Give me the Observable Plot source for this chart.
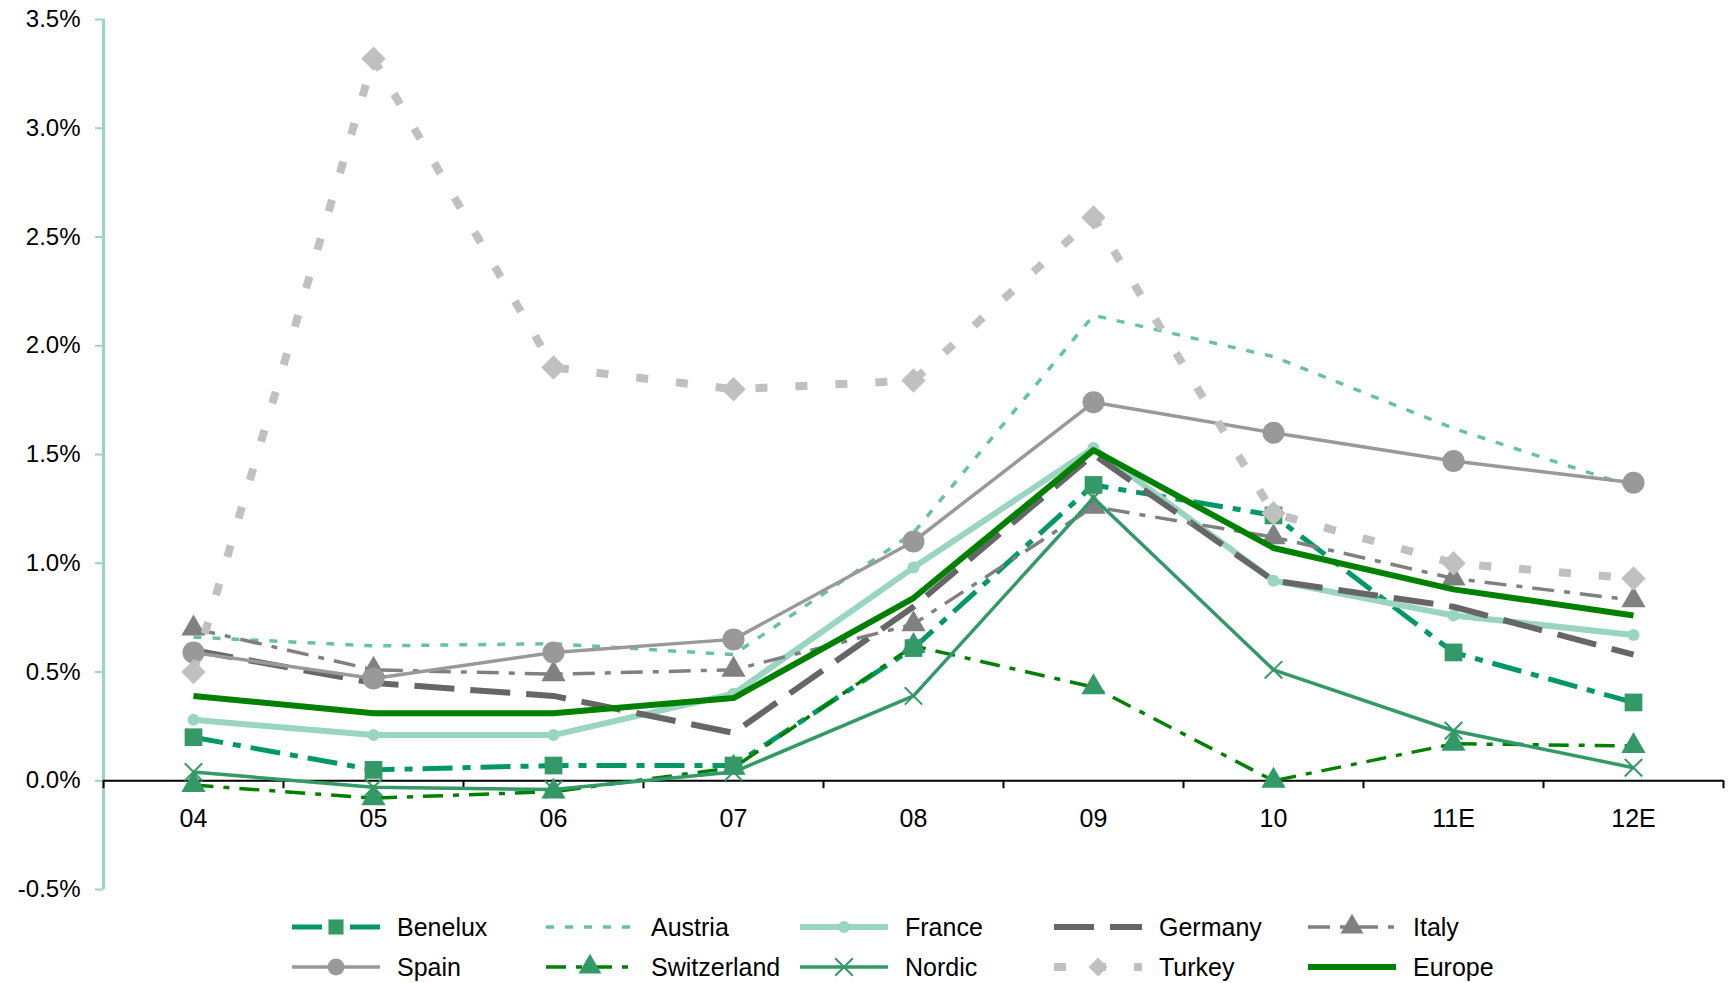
<!DOCTYPE html>
<html>
<head>
<meta charset="utf-8">
<script src="https://cdn.jsdelivr.net/npm/d3@7"></script>
<script src="https://cdn.jsdelivr.net/npm/@observablehq/plot@0.6"></script>
<style>
  html, body { margin: 0; padding: 0; background: #fff; }
  #chart { position: relative; width: 1731px; height: 983px; font-family: "Liberation Sans", Arial, sans-serif; }
  #legend { position: absolute; left: 0; top: 907px; width: 1731px; }
  .row { position: relative; height: 40px; }
  .item { position: absolute; top: 0; height: 40px; display: flex; align-items: center; }
  .item svg { display: block; }
  .item span { margin-left: 17px; font-size: 25px; color: #000; line-height: 40px; }
</style>
</head>
<body>
<div id="chart"></div>
<script>
// Periods on the x axis (E = estimate)
const years = ["04", "05", "06", "07", "08", "09", "10", "11E", "12E"];

// Values in percent, one array per region
const benelux     = [0.20, 0.05, 0.07, 0.07, 0.61, 1.36, 1.22, 0.59, 0.36];
const austria     = [0.66, 0.62, 0.63, 0.58, 1.14, 2.14, 1.95, 1.62, 1.35];
const france      = [0.28, 0.21, 0.21, 0.40, 0.98, 1.53, 0.92, 0.76, 0.67];
const germany     = [0.60, 0.45, 0.39, 0.22, 0.80, 1.50, 0.92, 0.80, 0.58];
const italy       = [0.70, 0.51, 0.49, 0.51, 0.72, 1.26, 1.12, 0.93, 0.83];
const spain       = [0.59, 0.47, 0.59, 0.65, 1.10, 1.74, 1.60, 1.47, 1.37];
const switzerland = [-0.02, -0.08, -0.05, 0.06, 0.62, 0.43, 0.00, 0.17, 0.16];
const nordic      = [0.04, -0.03, -0.04, 0.04, 0.39, 1.30, 0.51, 0.23, 0.06];
const turkey      = [0.50, 3.32, 1.90, 1.80, 1.84, 2.59, 1.23, 1.00, 0.93];
const europe      = [0.39, 0.31, 0.31, 0.38, 0.84, 1.52, 1.07, 0.88, 0.76];

// Y axis tick values (percent)
const yTicks = [-0.5, 0, 0.5, 1, 1.5, 2, 2.5, 3, 3.5];

// Line and marker styling per series, in drawing / legend order
const series = [
  {name: "Benelux", values: benelux, stroke: "#009966", width: 5, dash: "30,10,8,10", symbol: "square", fill: "#339966", r: 10},
  {name: "Austria", values: austria, stroke: "#66c2a5", width: 3.5, dash: "8,11"},
  {name: "France", values: france, stroke: "#99d5c0", width: 6, symbol: "circle", fill: "#99d5c0", r: 6},
  {name: "Germany", values: germany, stroke: "#666666", width: 6, dash: "40,16"},
  {name: "Italy", values: italy, stroke: "#808080", width: 3.5, dash: "22,10,6,10", symbol: "triangle", fill: "#808080", r: 9},
  {name: "Spain", values: spain, stroke: "#999999", width: 3.5, symbol: "circle", fill: "#999999", r: 11},
  {name: "Switzerland", values: switzerland, stroke: "#008000", width: 3.5, dash: "20,10,6,10", symbol: "triangle", fill: "#339966", r: 9},
  {name: "Nordic", values: nordic, stroke: "#339966", width: 3.5, symbol: "times", markerStroke: "#339966", r: 8},
  {name: "Turkey", values: turkey, stroke: "#c0c0c0", width: 8, dash: "12,28", symbol: "diamond2", fill: "#c0c0c0", r: 11},
  {name: "Europe", values: europe, stroke: "#008000", width: 6}
];

const idx = (d, i) => i;
const boundaries = d3.range(years.length + 1).map((k) => k - 0.5);

const seriesMarks = series.flatMap((s) => {
  const marks = [
    Plot.line(s.values, {
      x: idx, y: (d) => d,
      stroke: s.stroke, strokeWidth: s.width,
      strokeDasharray: s.dash, strokeLinecap: "butt", strokeLinejoin: "round"
    })
  ];
  if (s.symbol) {
    marks.push(Plot.dot(s.values, {
      x: idx, y: (d) => d,
      symbol: s.symbol, r: s.r,
      fill: s.markerStroke ? "none" : s.fill,
      stroke: s.markerStroke || "none",
      strokeWidth: s.markerStroke ? 2 : 0
    }));
  }
  return marks;
});

const chart = Plot.plot({
  width: 1731,
  height: 905,
  marginLeft: 103,
  marginRight: 8,
  marginTop: 19,
  marginBottom: 16,
  style: {fontFamily: "'Liberation Sans', Arial, sans-serif", background: "#fff", color: "#000"},
  x: {type: "linear", domain: [-0.5, years.length - 0.5], axis: null},
  y: {domain: [-0.5, 3.5], axis: null},
  marks: [
    // vertical value axis
    Plot.ruleX([-0.5], {y1: -0.5, y2: 3.5, stroke: "#99d5c0", strokeWidth: 3}),
    Plot.ruleY(yTicks, {x1: -0.5, x2: -0.5, insetLeft: -8, stroke: "#99d5c0", strokeWidth: 2}),
    Plot.text(yTicks, {
      x: -0.5, y: (d) => d, text: (d) => d.toFixed(1) + "%",
      textAnchor: "end", dx: -23, fontSize: 24, fill: "#000"
    }),
    // category axis along zero
    Plot.ruleY([0], {x1: -0.5, x2: years.length - 0.5, stroke: "#000", strokeWidth: 2}),
    Plot.ruleX(boundaries, {y1: 0, y2: 0, insetBottom: -8, stroke: "#000", strokeWidth: 2}),
    Plot.text(years, {x: idx, y: 0, text: (d) => d, dy: 38, fontSize: 25, fill: "#000"}),
    ...seriesMarks
  ]
});

const root = document.getElementById("chart");
root.appendChild(chart);

// Legend: two rows of five entries below the plot
const legend = document.createElement("div");
legend.id = "legend";
root.appendChild(legend);
const colPitch = 254, colStart = 292, swW = 88, swH = 30;
const symbolTypes = {square: d3.symbolSquare, circle: d3.symbolCircle, triangle: d3.symbolTriangle, times: d3.symbolTimes, diamond2: d3.symbolDiamond2};
for (let row = 0; row < 2; ++row) {
  const rowDiv = document.createElement("div");
  rowDiv.className = "row";
  legend.appendChild(rowDiv);
  series.slice(row * 5, row * 5 + 5).forEach((s, c) => {
    const item = document.createElement("div");
    item.className = "item";
    item.style.left = (colStart + c * colPitch) + "px";
    const svg = d3.create("svg").attr("width", swW).attr("height", swH);
    svg.append("line")
      .attr("x1", 0).attr("x2", swW).attr("y1", swH / 2).attr("y2", swH / 2)
      .attr("stroke", s.stroke).attr("stroke-width", s.width)
      .attr("stroke-dasharray", s.dash || null);
    if (s.symbol) {
      const rr = Math.min(s.r, 8.5);
      svg.append("path")
        .attr("transform", `translate(${swW / 2},${swH / 2})`)
        .attr("d", d3.symbol(symbolTypes[s.symbol], Math.PI * rr * rr)())
        .attr("fill", s.markerStroke ? "none" : s.fill)
        .attr("stroke", s.markerStroke || "none")
        .attr("stroke-width", s.markerStroke ? 2 : 0);
    }
    item.appendChild(svg.node());
    const label = document.createElement("span");
    label.textContent = s.name;
    item.appendChild(label);
    rowDiv.appendChild(item);
  });
}
</script>
</body>
</html>
